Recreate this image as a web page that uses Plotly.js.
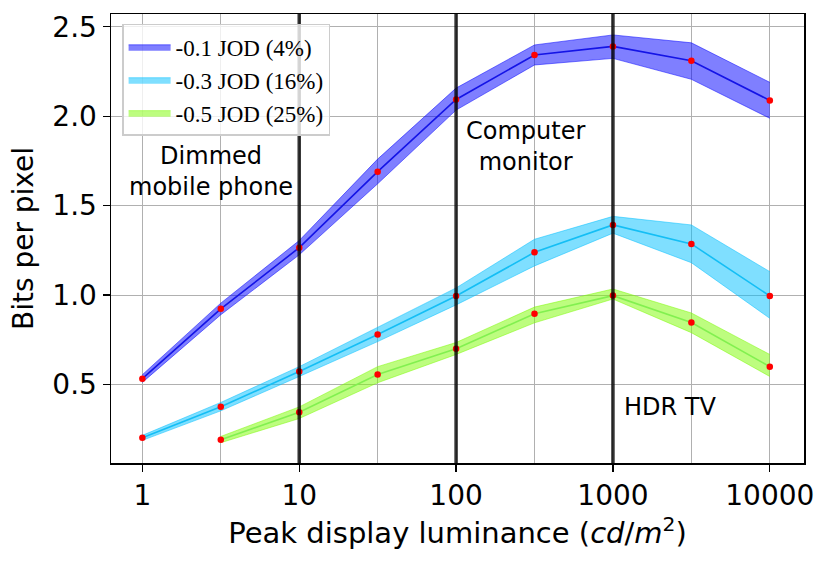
<!DOCTYPE html>
<html>
<head>
<meta charset="utf-8">
<script src="https://cdn.plot.ly/plotly-3.0.1.min.js"></script>
<style>
  html, body { margin: 0; padding: 0; background: #fff; }
  #chart { width: 831px; height: 561px; }
</style>
</head>
<body>
<div id="chart"></div>
<script>
// peak luminance (cd/m^2), half-decade steps
const lum = [1, 3.162, 10, 31.62, 100, 316.2, 1000, 3162, 10000];
const lumGreen = [3.162, 10, 31.62, 100, 316.2, 1000, 3162, 10000];

// -0.1 JOD (4%)
const blueMean = [0.533, 0.923, 1.265, 1.69, 2.093, 2.342, 2.39, 2.31, 2.088];
const blueUpper = [0.555, 0.955, 1.305, 1.76, 2.157, 2.398, 2.454, 2.41, 2.189];
const blueLower = [0.512, 0.89, 1.225, 1.622, 2.034, 2.286, 2.323, 2.206, 1.988];

// -0.3 JOD (16%)
const cyanMean = [0.202, 0.376, 0.573, 0.78, 0.995, 1.239, 1.392, 1.286, 0.995];
const cyanUpper = [0.216, 0.4, 0.6, 0.82, 1.04, 1.312, 1.44, 1.392, 1.131];
const cyanLower = [0.188, 0.353, 0.545, 0.74, 0.945, 1.163, 1.346, 1.181, 0.87];

// -0.5 JOD (25%)
const greenMean = [0.192, 0.345, 0.556, 0.70, 0.896, 0.997, 0.847, 0.60];
const greenUpper = [0.21, 0.375, 0.60, 0.735, 0.933, 1.034, 0.90, 0.668];
const greenLower = [0.175, 0.31, 0.51, 0.668, 0.845, 0.978, 0.79, 0.545];

const decadeTicks = [1, 10, 100, 1000, 10000];
const decadeLabels = ["1", "10", "100", "1000", "10000"];
const halfDecades = [3.162, 31.62, 316.2, 3162];

// displays marked with vertical lines
const displayLum = [10, 100, 1000];

const series = [
  { name: "-0.1 JOD (4%)", x: lum, mean: blueMean, up: blueUpper, lo: blueLower,
    fill: "rgba(0,0,255,0.5)", line: "rgb(20,20,230)" },
  { name: "-0.3 JOD (16%)", x: lum, mean: cyanMean, up: cyanUpper, lo: cyanLower,
    fill: "rgba(0,191,255,0.5)", line: "rgb(20,190,245)" },
  { name: "-0.5 JOD (25%)", x: lumGreen, mean: greenMean, up: greenUpper, lo: greenLower,
    fill: "rgba(124,252,0,0.5)", line: "rgb(130,240,80)" },
];

let traces = [];
series.forEach((s) => {
  traces.push({
    x: s.x, y: s.up, type: "scatter", mode: "lines",
    line: { color: s.fill, width: 1 }, showlegend: false, hoverinfo: "skip",
  });
  traces.push({
    x: s.x, y: s.lo, type: "scatter", mode: "lines", fill: "tonexty",
    fillcolor: s.fill, line: { color: s.fill, width: 1 }, name: s.name,
  });
  traces.push({
    x: s.x, y: s.mean, type: "scatter", mode: "lines",
    line: { color: s.line, width: 1.6 }, showlegend: false,
  });
});
series.forEach((s) => {
  traces.push({
    x: s.x, y: s.mean, type: "scatter", mode: "markers",
    marker: { color: "red", size: 6.5 }, showlegend: false,
  });
});

const font = "DejaVu Sans";

const layout = {
  width: 831,
  height: 561,
  margin: { l: 111, r: 27, t: 14, b: 98 },
  paper_bgcolor: "white",
  plot_bgcolor: "white",
  font: { family: font, size: 28, color: "black" },
  showlegend: true,
  legend: {
    x: 0.016, y: 0.978, xanchor: "left", yanchor: "top",
    traceorder: "normal",
    itemwidth: 42,
    bgcolor: "rgba(255,255,255,0.8)",
    bordercolor: "#cccccc", borderwidth: 1.5,
    font: { family: "Liberation Serif", size: 23, color: "black" },
  },
  xaxis: {
    type: "log",
    range: [-0.2, 4.218],
    tickvals: decadeTicks,
    ticktext: decadeLabels,
    ticks: "outside", ticklen: 7, tickwidth: 1.3, tickcolor: "black",
    tickfont: { size: 28 },
    showgrid: true, gridcolor: "#b0b0b0", gridwidth: 1,
    minor: { tickvals: halfDecades, showgrid: true, gridcolor: "#b0b0b0", gridwidth: 1, ticks: "" },
    showline: true, mirror: true, linecolor: "black", linewidth: 1.5,
    zeroline: false,
    title: { text: "Peak display luminance (<i>cd</i>/<i>m</i><sup>2</sup>)", font: { size: 29 }, standoff: 8 },
  },
  yaxis: {
    range: [0.0615, 2.571],
    tickvals: [0.5, 1.0, 1.5, 2.0, 2.5],
    ticktext: ["0.5", "1.0", "1.5", "2.0", "2.5"],
    ticks: "outside", ticklen: 7, tickwidth: 1.3, tickcolor: "black",
    tickfont: { size: 28 },
    showgrid: true, gridcolor: "#b0b0b0", gridwidth: 1,
    showline: true, mirror: true, linecolor: "black", linewidth: 1.5,
    zeroline: false,
    title: { text: "Bits per pixel", font: { size: 28 }, standoff: 10 },
  },
  shapes: displayLum.map((v) => ({
    type: "line", xref: "x", yref: "paper", x0: v, x1: v, y0: 0, y1: 1,
    line: { color: "rgba(0,0,0,0.8)", width: 3.5 }, layer: "above",
  })),
  annotations: [
    { text: "Dimmed<br>mobile phone", xref: "x", yref: "y", x: 0.439, y: 1.69,
      showarrow: false, font: { family: font, size: 24 } },
    { text: "Computer<br>monitor", xref: "x", yref: "y", x: 2.445, y: 1.828,
      showarrow: false, font: { family: font, size: 24 } },
    { text: "HDR TV", xref: "x", yref: "y", x: 3.362, y: 0.373,
      showarrow: false, font: { family: font, size: 24 } },
  ],
};

Plotly.newPlot("chart", traces, layout, { displayModeBar: false, staticPlot: true });
</script>
</body>
</html>
